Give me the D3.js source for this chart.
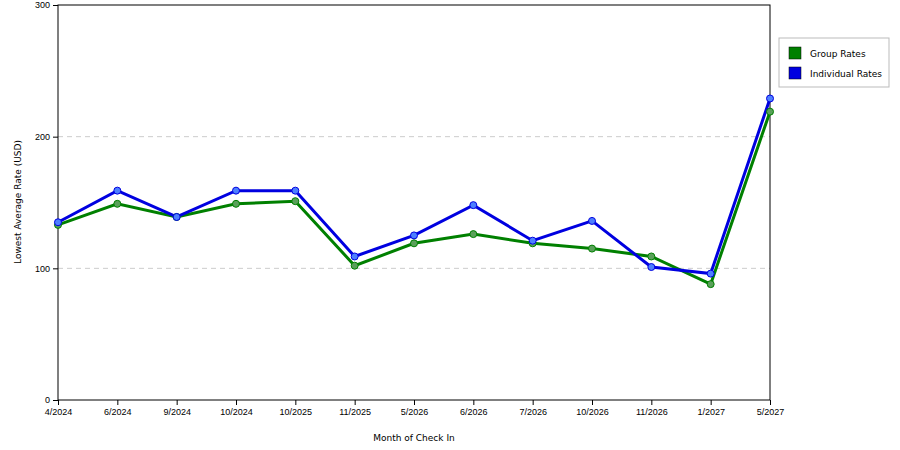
<!DOCTYPE html>
<html><head><meta charset="utf-8">
<script src="https://cdn.jsdelivr.net/npm/d3@7"></script>
<style>body{margin:0;background:#fff}svg{font-family:"DejaVu Sans",sans-serif}</style>
</head><body><div id="chart"></div>
<script>
var months = ["4/2024","6/2024","9/2024","10/2024","10/2025","11/2025","5/2026","6/2026","7/2026","10/2026","11/2026","1/2027","5/2027"];
var groupRates = [133,149,139,149,151,102,119,126,119,115,109,88,219];
var individualRates = [135,159,139,159,159,109,125,148,121,136,101,96,229];
var yTicks = [0,100,200,300];

var svg = d3.select('#chart').append('svg').attr('width', 900).attr('height', 450);
var x = d3.scalePoint().domain(months).range([58, 770]);
var y = d3.scaleLinear().domain([0, 300]).range([400, 5]);

svg.append('g').selectAll('line').data([100, 200]).enter().append('line')
  .attr('x1', 58).attr('x2', 770).attr('y1', d => y(d)).attr('y2', d => y(d))
  .attr('stroke', '#ccc').attr('stroke-dasharray', '5,4');
svg.append('rect').attr('x', 58).attr('y', 5).attr('width', 712).attr('height', 395)
  .attr('fill', 'none').attr('stroke', '#000');

var xa = svg.append('g').attr('transform', 'translate(0,400)').call(d3.axisBottom(x).tickSize(5).tickPadding(4));
var ya = svg.append('g').attr('transform', 'translate(58,0)').call(d3.axisLeft(y).tickValues(yTicks).tickSize(5).tickFormat(d3.format('d')));
[xa, ya].forEach(a => { a.selectAll('text').attr('font-size', 9).attr('fill', '#000'); a.select('.domain').remove(); });

svg.append('text').attr('x', 414).attr('y', 441).attr('text-anchor', 'middle').attr('font-size', 9).text('Month of Check In');
svg.append('text').attr('transform', 'translate(21,202) rotate(-90)').attr('text-anchor', 'middle').attr('font-size', 9).text('Lowest Average Rate (USD)');

var series = [
  {name: 'Group Rates', values: groupRates, color: '#008000', dot: '#5aa05a'},
  {name: 'Individual Rates', values: individualRates, color: '#0000e0', dot: '#4d7fff'}
];
var line = d3.line().x((d, i) => x(months[i])).y(d => y(d));
series.forEach(s => {
  svg.append('path').datum(s.values).attr('d', line).attr('fill', 'none')
    .attr('stroke', s.color).attr('stroke-width', 3);
});
series.forEach(s => {
  svg.append('g').selectAll('circle').data(s.values).enter().append('circle')
    .attr('cx', (d, i) => x(months[i])).attr('cy', d => y(d)).attr('r', 3.5)
    .attr('fill', s.dot).attr('stroke', s.color).attr('stroke-width', 1);
});

var lg = svg.append('g').attr('transform', 'translate(779,38)');
lg.append('rect').attr('width', 110).attr('height', 49).attr('fill', '#fff').attr('stroke', '#bbb');
series.forEach((s, i) => {
  lg.append('rect').attr('x', 10).attr('y', 9 + i * 20).attr('width', 12).attr('height', 12)
    .attr('fill', s.color).attr('stroke', '#000').attr('stroke-width', 0.5);
  lg.append('text').attr('x', 31).attr('y', 19 + i * 20).attr('font-size', 9).text(s.name);
});
</script></body></html>
